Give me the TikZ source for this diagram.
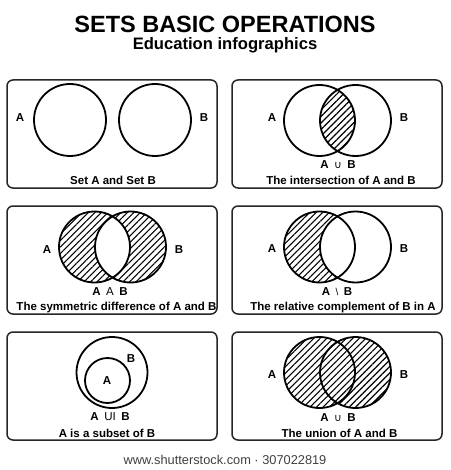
\documentclass[tikz,border=0pt]{standalone}
\usepackage{fontspec}
\setmainfont{Liberation Sans}
\newfontfamily\symfont{DejaVu Sans}
\usetikzlibrary{patterns.meta}
\tikzset{
  panel/.style={draw=black!85, line width=1.5pt, rounded corners=6pt},
  setcirc/.style={draw=black, line width=1.8pt},
  hatch/.style={pattern={Lines[angle=45,distance=4.6pt,line width=1.1pt]}, pattern color=black},
  lbl/.style={font=\fontsize{11.5}{13}\selectfont\bfseries, anchor=base, inner sep=0pt},
  captext/.style={font=\fontsize{11.5}{13}\selectfont\bfseries, anchor=base, inner sep=0pt},
  optext/.style={font=\fontsize{11.5}{13}\selectfont, anchor=base, inner sep=0pt},
}
\newcommand{\bA}{\textbf{A}}
\newcommand{\bB}{\textbf{B}}
\newcommand{\opgap}{\hspace{5.5pt}}
\begin{document}
\begin{tikzpicture}[x=1pt,y=-1pt]
\useasboundingbox (0,0) rectangle (450,470);
\fill[white] (0,0) rectangle (450,470);

% title
\node[anchor=base, inner sep=0pt, font=\fontsize{23.5}{26}\selectfont\bfseries] (title) at (225,33) {SETS BASIC OPERATIONS};
\node[anchor=base, inner sep=0pt, font=\fontsize{16.6}{19}\selectfont\bfseries] (subtitle) at (225,49.5) {Education infographics};

% panels
\draw[panel] (7,80) rectangle (217,188);
\draw[panel] (232,80) rectangle (442,188);
\draw[panel] (7,206) rectangle (217,314);
\draw[panel] (232,206) rectangle (442,314);
\draw[panel] (7,332) rectangle (217,440);
\draw[panel] (232,332) rectangle (442,440);

% ---------- panel 1: Set A and Set B
\draw[setcirc] (70,120) circle (36);
\draw[setcirc] (155,120) circle (36);
\node[lbl] (p1A) at (20,122) {A};
\node[lbl] (p1B) at (204,122) {B};
\node[captext] (p1cap) at (113,185) {Set A and Set B};

% ---------- panel 2: intersection
\begin{scope}
  \clip (319.5,120.5) circle (35.5);
  \fill[hatch] (355.5,120.5) circle (35.5);
\end{scope}
\draw[setcirc] (319.5,120.5) circle (35.5);
\draw[setcirc] (355.5,120.5) circle (35.5);
\node[lbl] (p2A) at (272,122) {A};
\node[lbl] (p2B) at (404,122) {B};
\node[optext] (p2op) at (338,168) {\bA\opgap{\symfont\fontsize{10.5}{12}\selectfont ∪}\opgap\bB};
\node[captext] (p2cap) at (341,184) {The intersection of A and B};

% ---------- panel 3: symmetric difference
\fill[hatch, even odd rule] (94.5,247) circle (35.5) (130.5,247) circle (35.5);
\draw[setcirc] (94.5,247) circle (35.5);
\draw[setcirc] (130.5,247) circle (35.5);
\node[lbl] (p3A) at (47,253) {A};
\node[lbl] (p3B) at (179,253) {B};
\node[optext] (p3op) at (110,295) {\bA\opgap A\opgap\bB};
\node[captext] (p3cap) at (116.5,310.5) {The symmetric difference of A and B};

% ---------- panel 4: relative complement
\begin{scope}
  \clip (319.5,247) circle (35.5);
  \fill[hatch, even odd rule] (319.5,247) circle (35.5) (355.5,247) circle (35.5);
\end{scope}
\draw[setcirc] (319.5,247) circle (35.5);
\draw[setcirc] (355.5,247) circle (35.5);
\node[lbl] (p4A) at (272,252) {A};
\node[lbl] (p4B) at (404,252) {B};
\node[optext] (p4op) at (337,295) {\bA\opgap{\fontsize{10}{12}\selectfont\textbackslash}\opgap\bB};
\node[captext] (p4cap) at (343,310.5) {The relative complement of B in A};

% ---------- panel 5: subset
\draw[setcirc] (112,372.5) circle (35.5);
\draw[setcirc] (107.5,380.5) circle (22.5);
\node[lbl] (p5A) at (107,384) {A};
\node[lbl] (p5B) at (131,362) {B};
\node[optext] (p5op) at (110,420.5) {\bA\opgap UI\opgap\bB};
\node[captext] (p5cap) at (107,437) {A is a subset of B};

% ---------- panel 6: union
\fill[hatch] (319.5,372.5) circle (35.5) (355.5,372.5) circle (35.5);
\draw[setcirc] (319.5,372.5) circle (35.5);
\draw[setcirc] (355.5,372.5) circle (35.5);
\node[lbl] (p6A) at (272,378) {A};
\node[lbl] (p6B) at (404,378) {B};
\node[optext] (p6op) at (338,421) {\bA\opgap{\symfont\fontsize{10.5}{12}\selectfont ∪}\opgap\bB};
\node[captext] (p6cap) at (339.5,437) {The union of A and B};

% footer
\node[anchor=base, inner sep=0pt, text=black!75, font=\fontsize{12.8}{15}\selectfont] (footer) at (225,464) {www.shutterstock.com · 307022819};
\end{tikzpicture}
\end{document}
